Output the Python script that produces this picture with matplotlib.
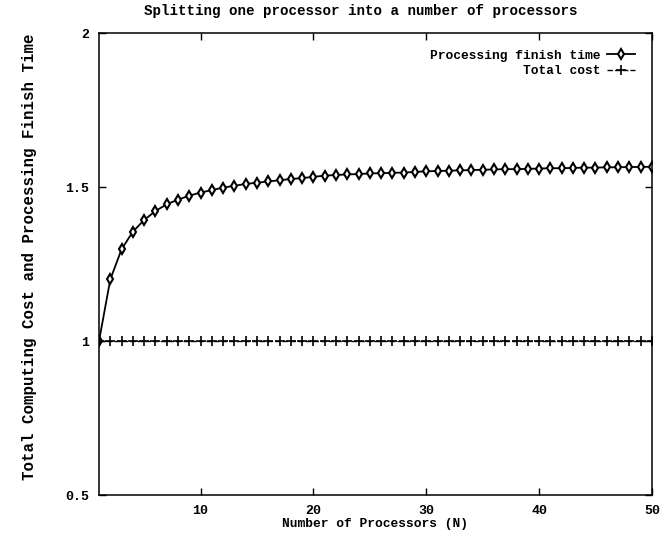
import matplotlib
matplotlib.use("Agg")
import matplotlib.pyplot as plt

N = list(range(1, 51))
finish_time = [1.000, 1.200, 1.298, 1.355, 1.393, 1.422, 1.444, 1.459, 1.472, 1.482,
               1.490, 1.498, 1.504, 1.510, 1.514, 1.518, 1.522, 1.526, 1.529, 1.533,
               1.537, 1.539, 1.541, 1.542, 1.544, 1.545, 1.546, 1.547, 1.549, 1.551,
               1.552, 1.553, 1.554, 1.555, 1.556, 1.557, 1.558, 1.558, 1.559, 1.560,
               1.561, 1.561, 1.562, 1.563, 1.563, 1.564, 1.564, 1.565, 1.565, 1.566]
total_cost = [1.0] * 50

xticks = [10, 20, 30, 40, 50]
yticks = [0.5, 1, 1.5, 2]
ytick_labels = ["0.5", "1", "1.5", "2"]

plt.rcParams['font.family'] = ['Liberation Mono', 'DejaVu Sans Mono']
plt.rcParams['font.weight'] = 'bold'

fig = plt.figure(figsize=(6.7, 5.37), dpi=100)
ax = fig.add_axes([0.1478, 0.0782, 0.8252, 0.8603])

ax.plot(N, finish_time, color='black', lw=1.3, marker='d', markersize=5.5,
        markerfacecolor='white', markeredgecolor='black', markeredgewidth=1.5,
        label='Processing finish time')
ax.plot(N, total_cost, color='black', lw=1.0, linestyle=(0, (4, 1.5)), marker='+',
        markersize=7, markeredgewidth=1.2, label='Total cost')

ax.set_xlim(1, 50)
ax.set_ylim(0.5, 2)
ax.set_xticks(xticks)
ax.set_xticklabels([str(t) for t in xticks])
ax.set_yticks(yticks)
ax.set_yticklabels(ytick_labels)
ax.tick_params(direction='in', length=5, width=1, top=True, right=True, labelsize=9.5, pad=7)
for s in ax.spines.values():
    s.set_linewidth(1.1)

ax.set_title('Splitting one processor into a number of processors', fontsize=10.2,
             fontweight='bold', pad=13, x=0.473)
ax.set_xlabel('Number of Processors (N)', fontsize=9.3, fontweight='bold', labelpad=1)
ax.set_ylabel('Total Computing Cost and Processing Finish Time', fontsize=11.3,
              fontweight='bold')
ax.yaxis.set_label_coords(-0.112, 0.515)

leg = ax.legend(loc='upper right', frameon=False, markerfirst=False, fontsize=9.3,
                handlelength=2.2, handletextpad=0.5, borderaxespad=0.9,
                labelspacing=0.25)
for t in leg.get_texts():
    t.set_ha('right')

fig.savefig('out.png', dpi=100)
